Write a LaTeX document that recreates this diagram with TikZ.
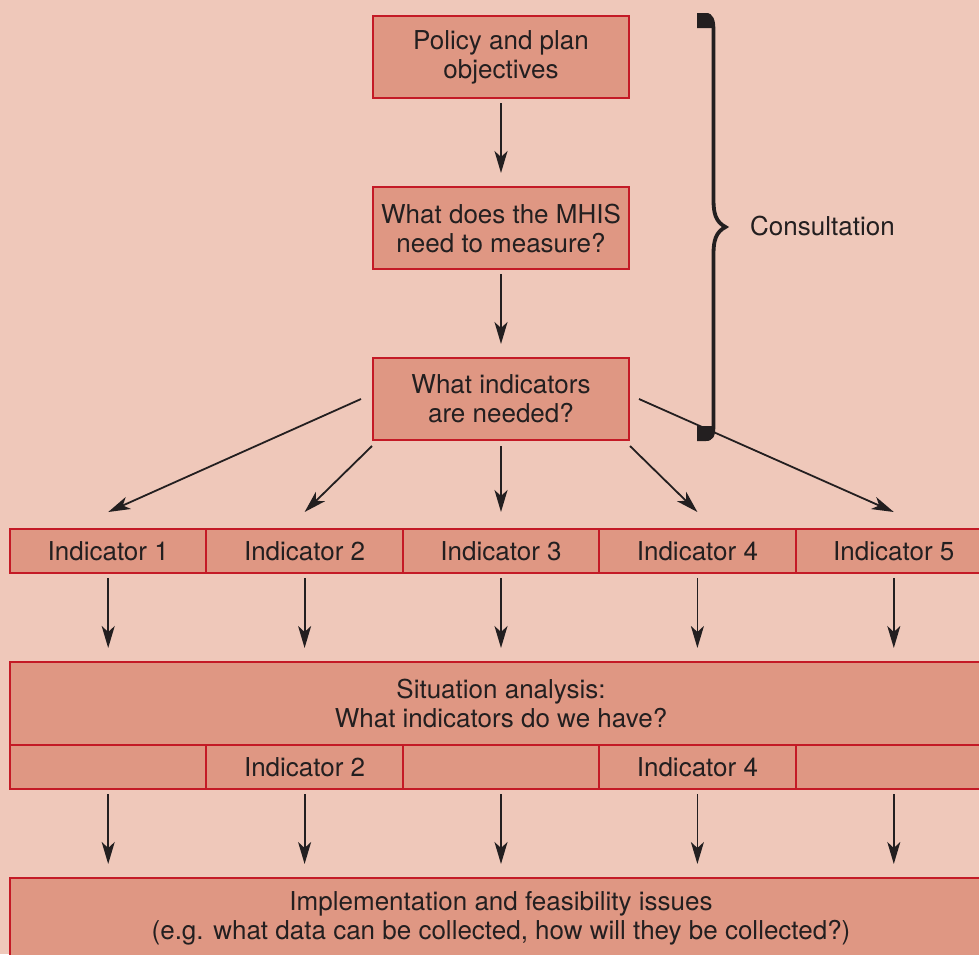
\documentclass[tikz,border=0pt]{standalone}
\usepackage{fontspec}
\setmainfont{TeX Gyre Heros}
\usetikzlibrary{arrows.meta}
\definecolor{bg}{RGB}{239,200,186}
\definecolor{boxfill}{RGB}{223,151,131}
\definecolor{boxline}{RGB}{196,26,38}
\definecolor{ink}{RGB}{35,31,32}
\begin{document}
\begin{tikzpicture}[x=1pt,y=-1pt,
  font=\fontsize{26}{29}\selectfont,
  box/.style={draw=boxline, fill=boxfill, line width=2pt, text=ink,
    align=center, inner sep=0pt, anchor=north west},
  cell/.style={box, minimum width=196.4pt, minimum height=44pt},
  arr/.style={draw=ink, line width=1.8pt,
    -{Stealth[length=22pt,width=13pt,inset=6pt]}}]
\useasboundingbox (0,0) rectangle (979,954);
\clip (0,0) rectangle (979,954);
\fill[bg] (0,0) rectangle (979,954);

% top column of questions
\node[box, minimum width=256pt, minimum height=82pt] (b1) at (372,15) {Policy and plan\\objectives};
\node[box, minimum width=256pt, minimum height=82pt] (b2) at (372,186) {What does the MHIS\\need to measure?};
\node[box, minimum width=256pt, minimum height=82pt] (b3) at (372,357) {What indicators\\are needed?};

% row of indicators
\foreach \k in {1,...,5}
  \node[cell] (i\k) at ({9+196.4*(\k-1)},528) {Indicator \k};

% situation analysis block
\node[box, minimum width=982pt, minimum height=83pt] (sit) at (9,661) {Situation analysis:\\What indicators do we have?};
\node[cell] (s1) at (9,744) {};
\node[cell] (s2) at (205.4,744) {Indicator 2};
\node[cell] (s3) at (401.8,744) {};
\node[cell] (s4) at (598.2,744) {Indicator 4};
\node[cell] (s5) at (794.6,744) {};

% implementation block
\node[box, minimum width=982pt, minimum height=80pt] (impl) at (9,877) {Implementation and feasibility issues\\(e.g. what data can be collected, how will they be collected?)};

% consultation brace
\fill[ink] (697,13) -- (706,13) .. controls (710,13) and (712,15) .. (713,20) -- (713,28) -- (697,28) -- cycle;
\fill[ink] (697,441) -- (706,441) .. controls (710,441) and (712,439) .. (713,434) -- (713,426) -- (697,426) -- cycle;
\draw[ink, line width=3.8pt]
  (705,14.9) .. controls (712,14.9) and (713.5,20) .. (713.5,32)
  -- (713.5,200) .. controls (713.5,214) and (716,222) .. (725.5,227)
  .. controls (716,232) and (713.5,240) .. (713.5,254)
  -- (713.5,424) .. controls (713.5,436) and (712,439.1) .. (705,439.1);
\node[anchor=west, text=ink, inner sep=0pt] (cons) at (750,226) {Consultation};

% connectors
\draw[arr, shorten <=4pt, shorten >=13pt] (b1.south) -- (b2.north);
\draw[arr, shorten <=4pt, shorten >=13pt] (b2.south) -- (b3.north);
\draw[arr] ([xshift=-11pt]b3.west) -- ([yshift=16pt]i1.north);
\draw[arr] ([yshift=-5pt]b3.south west) -- ([yshift=16pt]i2.north);
\draw[arr] ([yshift=-5pt]b3.south) -- ([yshift=16pt]i3.north);
\draw[arr] ([yshift=-5pt]b3.south east) -- ([yshift=16pt]i4.north);
\draw[arr] ([xshift=9pt]b3.east) -- ([yshift=16pt]i5.north);
\foreach \k in {1,...,5} {
  \draw[arr, shorten <=4pt, shorten >=13pt] (i\k.south) -- (i\k.south |- sit.north);
  \draw[arr, shorten <=4pt, shorten >=13pt] (s\k.south) -- (s\k.south |- impl.north);
}
\end{tikzpicture}
\end{document}
